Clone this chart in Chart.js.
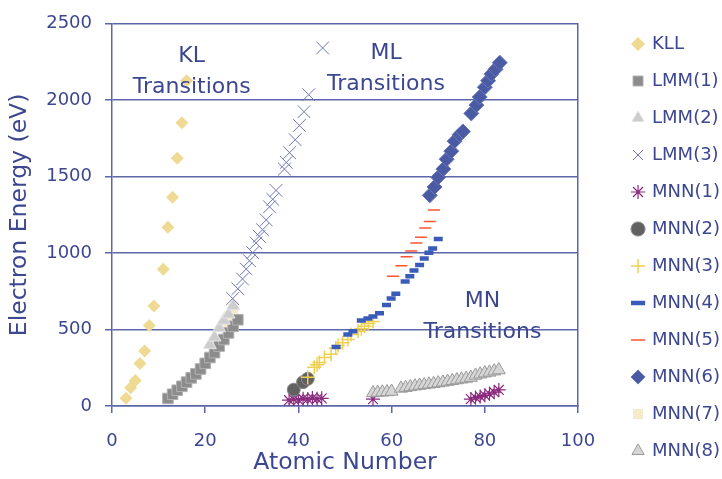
<!DOCTYPE html>
<html>
<head>
<meta charset="utf-8">
<script src="https://cdn.jsdelivr.net/npm/chart.js@4.4.1/dist/chart.umd.min.js"></script>
<style>
  html, body { margin: 0; padding: 0; background: #fff; }
</style>
</head>
<body>
<canvas id="chart" width="722" height="479"></canvas>
<script>
// ── data: atomic number (Z) and Auger energy (eV) ──
const kllZ  = [3, 4, 5, 6, 7, 8, 9, 11, 12, 13, 14, 15, 16];
const kllE  = [51, 120, 167, 278, 360, 527, 654, 895, 1170, 1365, 1620, 1853, 2127];

const lmm1Z = [12, 13, 14, 15, 16, 17, 18, 19, 20, 21, 22, 23, 24, 25, 26, 27];
const lmm1E = [49, 77, 103, 129, 156, 184, 210, 242, 279, 317, 349, 392, 435, 478, 521, 564];

const lmm2Z = [21, 22, 23, 24, 25, 26];
const lmm2E = [400, 450, 510, 560, 600, 655];

const lmm3Z = [25.9, 27.0, 28.0, 28.8, 29.5, 30.2, 30.9, 31.6, 32.3, 33.1, 33.8, 34.5, 35.2,
               37.0, 37.4, 38.1, 39.3, 40.2, 41.2, 42.2, 45.2];
const lmm3E = [703, 767, 831, 896, 950, 1003, 1067, 1110, 1153, 1217, 1303, 1352, 1410,
               1550, 1593, 1657, 1742, 1835, 1925, 2036, 2342];

const mnn1Z = [38, 39, 40, 41, 42, 43, 44, 45, 56, 77, 78, 79, 80, 81, 82, 83];
const mnn1E = [38, 44, 40, 48, 45, 52, 47, 50, 45, 45, 55, 62, 70, 80, 90, 105];

const mnn2Z = [39, 41, 42];
const mnn2E = [107, 156, 178];

const mnn3Z = [42, 43.4, 44, 44.5, 45.6, 47, 48, 48.5, 49.5, 50.6, 51.3, 52.8, 53.5, 54.2, 55, 56];
const mnn3E = [188, 253, 270, 285, 317, 339, 380, 395, 413, 435, 467, 489, 505, 521, 540, 553];

const mnn4Z = [48.1, 50.6, 51.7, 53.5, 54.9, 56.0, 57.4, 58.9, 59.9, 60.9, 62.9, 63.9, 64.8, 66.0, 67.0, 68.0, 68.8, 70.0];
const mnn4E = [386, 467, 489, 560, 572, 585, 606, 660, 703, 735, 815, 849, 887, 922, 964, 1003, 1031, 1093];

const mnn5Z = [60.3, 62.1, 63.2, 64.2, 65.3, 66.3, 67.2, 68.2, 69.1];
const mnn5E = [849, 917, 977, 1014, 1067, 1104, 1164, 1207, 1282];

const mnn6Z = [68.2, 69.2, 70.0, 71.1, 71.8, 72.8, 73.5, 74.6, 75.3, 77.1, 78.2, 78.9, 80.0, 80.7, 81.4, 82.3, 83.2];
const mnn6E = [1378, 1432, 1496, 1550, 1614, 1667, 1732, 1775, 1796, 1914, 1968, 2021, 2085, 2128, 2171, 2203, 2246];

const mnn7Z = [24, 25, 26];
const mnn7E = [535, 585, 635];

const mnn8Z = [56, 57, 58, 59, 60, 62, 63, 64, 65, 66, 67, 68, 69, 70, 71, 72, 73, 74, 75, 76, 77, 78, 79, 80, 81, 82, 83];
const mnn8E = [85, 88, 90, 92, 95, 115, 120, 125, 130, 134, 138, 142, 146, 150, 155, 160, 165, 170, 175, 180, 186, 200, 208, 215, 220, 228, 235];

// region captions (anchored in data units, two lines each)
const regionText = [['KL', 'Transitions'], ['ML', 'Transitions'], ['MN', 'Transitions']];
const regionZ    = [17.1, 58.8, 79.5];
const regionE    = [2290, 2310, 688];

const xTicks = [0, 20, 40, 60, 80, 100];
const yTicks = [0, 500, 1000, 1500, 2000, 2500];

// ── styling ──
const TEXT = '#3c4790';
const GRID = '#5d66a8';
const FONT = '"DejaVu Sans", Verdana, sans-serif';

const pts = (zs, es) => zs.map((z, i) => ({ x: z, y: es[i] }));

function series(label, zs, es, style) {
  return Object.assign({ label, data: pts(zs, es), showLine: false, pointBorderWidth: 0 }, style);
}

const datasets = [
  series('KLL',    kllZ,  kllE,  { pointStyle: 'rectRot',  pointRadius: 6.5, pointBackgroundColor: '#efda94', pointBorderColor: '#efda94' }),
  series('LMM(1)', lmm1Z, lmm1E, { pointStyle: 'rect',     pointRadius: 7.5, pointBackgroundColor: '#8c8c8c', pointBorderColor: '#b2b2b2', pointBorderWidth: 1 }),
  series('LMM(2)', lmm2Z, lmm2E, { pointStyle: 'triangle', pointRadius: 7.5, pointBackgroundColor: '#cdcdcd', pointBorderColor: '#e4e4e4', pointBorderWidth: 1 }),
  series('LMM(3)', lmm3Z, lmm3E, { pointStyle: 'crossRot', pointRadius: 9,   pointBackgroundColor: '#6d75b5', pointBorderColor: '#6d75b5', pointBorderWidth: 1 }),
  series('MNN(1)', mnn1Z, mnn1E, { pointStyle: 'star',     pointRadius: 7,   pointBackgroundColor: '#8a2a7e', pointBorderColor: '#8a2a7e', pointBorderWidth: 1.2 }),
  series('MNN(2)', mnn2Z, mnn2E, { pointStyle: 'circle',   pointRadius: 6.5, pointBackgroundColor: '#616161', pointBorderColor: '#8a8a8a', pointBorderWidth: 1 }),
  series('MNN(3)', mnn3Z, mnn3E, { pointStyle: 'cross',    pointRadius: 7,   pointBackgroundColor: '#f0d050', pointBorderColor: '#f0d050', pointBorderWidth: 1.5 }),
  series('MNN(4)', mnn4Z, mnn4E, { pointStyle: 'line',     pointRadius: 4.5, pointBackgroundColor: '#3a5cb8', pointBorderColor: '#3a5cb8', pointBorderWidth: 4.5 }),
  series('MNN(5)', mnn5Z, mnn5E, { pointStyle: 'line',     pointRadius: 6,   pointBackgroundColor: '#ff5533', pointBorderColor: '#ff5533', pointBorderWidth: 1.5 }),
  series('MNN(6)', mnn6Z, mnn6E, { pointStyle: 'rectRot',  pointRadius: 7.5, pointBackgroundColor: '#4b5ba3', pointBorderColor: '#6a78b8', pointBorderWidth: 1 }),
  series('MNN(7)', mnn7Z, mnn7E, { pointStyle: 'rect',     pointRadius: 7,   pointBackgroundColor: '#f5ebcb', pointBorderColor: '#f5ebcb' }),
  series('MNN(8)', mnn8Z, mnn8E, { pointStyle: 'triangle', pointRadius: 7.5, pointBackgroundColor: '#d6d6d6', pointBorderColor: '#9a9a9a', pointBorderWidth: 1 }),
];
// later series sit on top (as in the original); MNN(7) stays underneath
datasets.forEach((d, i) => { d.order = d.label === 'MNN(7)' ? 50 : datasets.length - i; });

const regionLabels = {
  id: 'regionLabels',
  afterDatasetsDraw(chart) {
    const { ctx, scales: { x, y } } = chart;
    ctx.save();
    ctx.font = '22px ' + FONT;
    ctx.fillStyle = TEXT;
    ctx.textAlign = 'center';
    ctx.textBaseline = 'middle';
    regionText.forEach((lines, k) => {
      const px = x.getPixelForValue(regionZ[k]);
      const py = y.getPixelForValue(regionE[k]);
      lines.forEach((t, i) => ctx.fillText(t, px, py + i * 31));
    });
    ctx.restore();
  }
};

new Chart(document.getElementById('chart'), {
  type: 'scatter',
  data: { datasets },
  plugins: [regionLabels],
  options: {
    responsive: false,
    animation: false,
    events: [],
    layout: { padding: { top: 16, right: -8, left: 0, bottom: 0 } },
    plugins: {
      tooltip: { enabled: false },
      legend: {
        position: 'right',
        align: 'end',
        labels: {
          usePointStyle: true,
          boxWidth: 10,
          boxHeight: 10,
          padding: 19,
          color: TEXT,
          font: { family: FONT, size: 18 },
          sort: (a, b) => a.datasetIndex - b.datasetIndex,
        }
      }
    },
    scales: {
      x: {
        type: 'linear', min: 0, max: 100,
        afterBuildTicks: s => { s.ticks = xTicks.map(v => ({ value: v })); },
        afterFit: s => { s.height = 73; },
        ticks: { color: TEXT, font: { family: FONT, size: 18 }, padding: 18, callback: v => String(v) },
        grid: { drawOnChartArea: false, drawTicks: true, tickLength: 7, color: GRID, lineWidth: 1.5 },
        border: { color: GRID, width: 1.5 },
        title: { display: true, text: 'Atomic Number', color: TEXT, font: { family: FONT, size: 23.5 }, padding: { top: 0, bottom: 2 } },
      },
      y: {
        type: 'linear', min: 0, max: 2500,
        afterBuildTicks: s => { s.ticks = yTicks.map(v => ({ value: v })); },
        afterFit: s => { s.width = 112; },
        ticks: { color: TEXT, font: { family: FONT, size: 18 }, padding: 13, callback: v => String(v) },
        grid: { color: GRID, lineWidth: 1.5, tickLength: 7 },
        border: { color: GRID, width: 1.5 },
        title: { display: true, text: 'Electron Energy (eV)', color: TEXT, font: { family: FONT, size: 23.5 }, padding: { top: 6, bottom: 0 } },
      },
      yRight: {
        type: 'linear', position: 'right', min: 0, max: 1,
        afterFit: s => { s.width = 36; },
        ticks: { display: false },
        grid: { drawOnChartArea: false, drawTicks: false },
        border: { color: GRID, width: 1.5 },
      }
    }
  }
});
</script>
</body>
</html>
